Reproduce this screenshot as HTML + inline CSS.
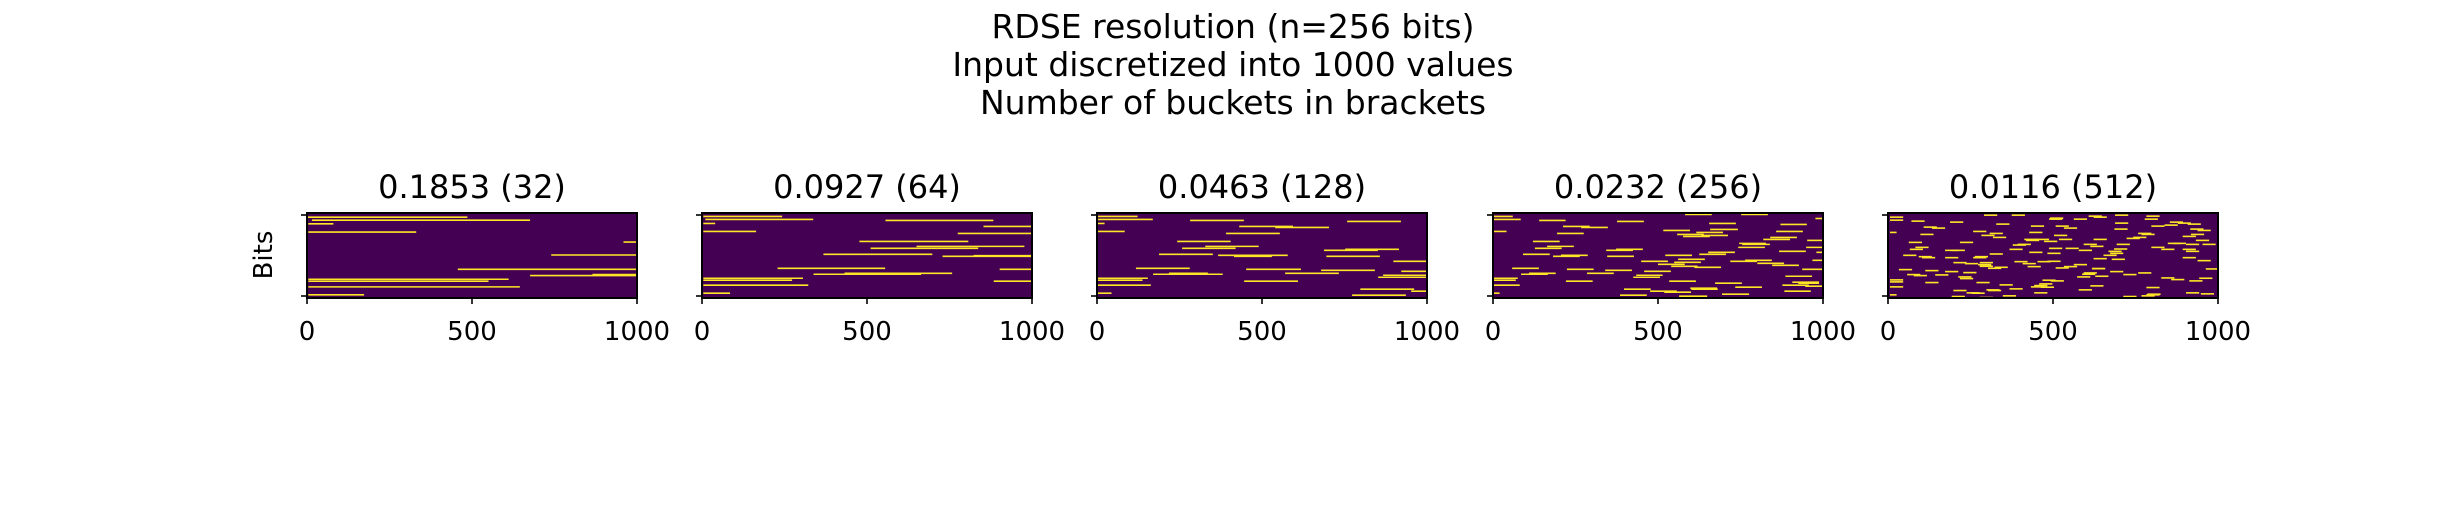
<!DOCTYPE html>
<html><head><meta charset="utf-8"><style>
html,body{margin:0;padding:0;background:#fff;}
svg{display:block;font-family:"DejaVu Sans","Liberation Sans",sans-serif;}
</style></head><body>
<svg id="fig" width="2464" height="508" viewBox="0 0 2464 508" xmlns="http://www.w3.org/2000/svg">
<rect width="2464" height="508" fill="#fff"/>
<g font-size="33" text-anchor="middle" fill="#000">
<text x="1233" y="38">RDSE resolution (n=256 bits)</text>
<text x="1233" y="76">Input discretized into 1000 values</text>
<text x="1233" y="114">Number of buckets in brackets</text>
</g>
<text font-size="26" text-anchor="middle" transform="translate(272,255) rotate(-90)">Bits</text>
<g id="panels"></g>
</svg>
<script>
const panelTitles = ["0.1853 (32)", "0.0927 (64)", "0.0463 (128)", "0.0232 (256)", "0.0116 (512)"];
const xTicks = [0, 500, 1000];
const xTickLabels = ["0", "500", "1000"];
const yTicks = [0, 255];
// segments: [row, startValue, endValue]
const seg1 = [[12,0,486],[21,15,676],[32,4,80],[57,4,331],[87,959,997],[126,740,997],[169,457,1000],[185,865,1000],[186,865,1000],[188,676,1000],[199,4,611],[205,4,550],[222,4,645],[246,4,173]];
const seg2 = [[10,4,243],[19,10,337],[31,4,40],[55,4,164],[22,556,883],[40,853,1000],[61,775,1000],[85,477,807],[100,650,977],[106,511,837],[124,368,698],[130,729,1000],[128,823,1000],[166,229,555],[169,902,1000],[184,338,664],[181,432,758],[196,4,306],[202,4,273],[217,4,322],[205,884,1000],[241,4,85]];
const seg3 = [[10,0,123],[19,0,169],[31,0,23],[55,0,84],[22,282,445],[40,431,594],[43,540,703],[61,391,554],[25,758,921],[85,243,405],[100,328,490],[106,258,420],[124,188,351],[127,367,578],[130,415,530],[112,688,851],[109,752,915],[130,695,857],[145,898,1000],[166,118,281],[184,170,381],[181,218,336],[169,452,618],[172,679,842],[181,570,733],[175,922,1000],[187,867,1000],[193,852,1000],[196,0,154],[202,0,138],[217,0,163],[205,446,609],[229,798,961],[235,952,1000],[247,773,936],[241,0,44]];
const seg4 = [[10,0,60],[19,0,84],[55,0,41],[22,140,220],[40,212,293],[43,267,348],[61,194,275],[85,121,202],[100,164,245],[106,127,208],[124,91,172],[130,182,263],[127,206,287],[25,376,457],[4,582,663],[4,752,833],[52,516,597],[64,558,639],[70,576,657],[58,616,697],[67,631,712],[31,655,736],[49,658,742],[34,871,951],[55,858,939],[73,840,921],[79,819,900],[82,952,1000],[16,977,1000],[91,746,827],[94,755,839],[103,743,824],[103,949,1000],[115,867,948],[118,980,1000],[112,343,424],[109,373,454],[130,346,427],[127,522,603],[118,652,733],[124,625,706],[139,561,642],[145,449,530],[148,549,630],[154,500,581],[160,540,620],[163,610,691],[145,719,800],[142,764,845],[151,801,882],[157,846,927],[142,968,1000],[169,937,1000],[166,58,139],[184,85,166],[181,109,190],[169,224,305],[181,285,366],[172,340,421],[175,458,539],[187,434,514],[193,425,506],[196,0,75],[202,0,69],[217,0,81],[205,221,302],[205,534,615],[190,886,967],[208,907,988],[211,925,988],[217,877,957],[220,946,1000],[211,673,754],[223,734,815],[226,598,679],[229,601,681],[229,397,478],[235,476,557],[238,519,600],[235,883,963],[244,694,776],[247,385,466],[250,564,649],[241,0,20]];
const seg5 = [[12,6,46],[21,6,46],[58,6,26],[24,71,111],[27,188,228],[6,291,331],[6,375,415],[18,488,528],[15,491,531],[18,563,603],[9,608,648],[12,623,663],[6,688,728],[18,778,818],[9,783,823],[27,854,894],[30,878,918],[42,108,148],[45,133,173],[64,98,138],[55,258,298],[67,283,323],[61,308,348],[73,318,358],[33,328,368],[58,428,468],[39,433,473],[39,508,548],[45,533,573],[79,448,488],[82,418,458],[85,473,513],[79,518,558],[67,503,543],[79,623,663],[48,686,726],[30,688,728],[76,723,763],[73,743,783],[64,768,808],[39,798,838],[36,838,878],[33,908,948],[48,916,956],[52,938,978],[64,918,958],[91,863,903],[70,893,933],[82,933,973],[94,953,993],[88,63,103],[103,83,123],[109,66,106],[127,46,86],[134,103,143],[131,93,133],[134,173,213],[112,173,213],[112,193,233],[88,218,258],[134,258,298],[131,263,303],[149,278,318],[155,273,313],[160,278,318],[123,308,348],[166,303,343],[149,198,238],[152,233,273],[109,368,408],[96,378,418],[94,393,433],[79,413,453],[118,428,468],[121,483,523],[145,483,523],[165,508,548],[161,533,573],[112,578,618],[137,623,663],[121,673,713],[139,678,718],[115,668,708],[167,618,658],[161,423,463],[146,383,423],[152,408,448],[146,453,493],[106,488,528],[106,538,578],[155,563,603],[94,593,633],[100,613,653],[127,653,693],[108,685,725],[94,693,733],[61,758,798],[103,798,838],[109,828,868],[91,848,888],[109,893,933],[115,903,943],[134,893,933],[143,938,978],[168,963,1000],[94,903,943],[170,33,73],[185,58,98],[188,78,118],[173,113,153],[186,143,183],[176,173,213],[192,213,253],[197,218,258],[179,228,268],[209,268,308],[231,298,338],[233,303,343],[216,338,378],[228,368,408],[222,433,473],[218,443,483],[213,458,498],[223,463,503],[202,468,508],[204,493,533],[240,443,483],[231,578,618],[180,593,633],[184,588,628],[192,573,613],[190,628,668],[219,613,653],[167,618,658],[176,673,713],[185,713,753],[180,758,798],[224,783,823],[195,828,868],[200,858,898],[204,913,953],[196,943,983],[240,903,943],[243,948,988],[251,713,753],[249,768,808],[246,783,823],[244,786,826],[201,6,46],[207,6,46],[222,6,46],[246,6,26],[209,113,153],[251,193,233],[233,198,238],[240,238,278],[241,253,293],[254,278,318],[249,348,388],[163,323,363]];
const allSegs = [seg1, seg2, seg3, seg4, seg5];

const panelLeft = [307, 702, 1097, 1493, 1888];
const PW = 330, PT = 213, PH = 85;
const NS = "http://www.w3.org/2000/svg";
const root = document.getElementById('panels');
function mk(tag, attrs, parent){const e=document.createElementNS(NS,tag);for(const k in attrs)e.setAttribute(k,attrs[k]);parent.appendChild(e);return e;}

panelTitles.forEach((title, p) => {
  const L = panelLeft[p];
  const xs = v => L + v / 1000 * PW;
  const ys = r => PT + (r + 0.5) / 256 * PH;
  const g = mk('g', {}, root);
  
  
  const bg = mk('rect', {x: L, y: PT, width: PW, height: PH, fill: '#440154'}, g);
  
  
  allSegs[p].forEach(s => {
    const ln = mk('line', {x1: xs(s[1]), x2: xs(s[2]), y1: ys(s[0]), y2: ys(s[0]), stroke: '#fde725', 'stroke-width': 1.6}, g);
    
    
  });
  const fr = mk('rect', {x: L, y: PT, width: PW, height: PH, fill: 'none', stroke: '#000', 'stroke-width': 2}, g);
  
  
  xTicks.forEach((t, i) => {
    const x = xs(t);
    const tk = mk('line', {x1: x, x2: x, y1: PT + PH, y2: PT + PH + 6, stroke: '#000', 'stroke-width': 1.6}, g);
    
    
    const tl = mk('text', {x: x, y: 340, 'font-size': 26, 'text-anchor': 'middle'}, g);
    tl.textContent = xTickLabels[i];
    
    
  });
  yTicks.forEach(r => {
    const y = PT + 2 + r / 255 * (PH - 4);
    const tk = mk('line', {x1: L - 6, x2: L, y1: y, y2: y, stroke: '#000', 'stroke-width': 1.6}, g);
    
    
  });
  const tt = mk('text', {x: L + PW / 2, y: 198, 'font-size': 32, 'text-anchor': 'middle'}, g);
  tt.textContent = title;
  
  
});
</script>
</body></html>
